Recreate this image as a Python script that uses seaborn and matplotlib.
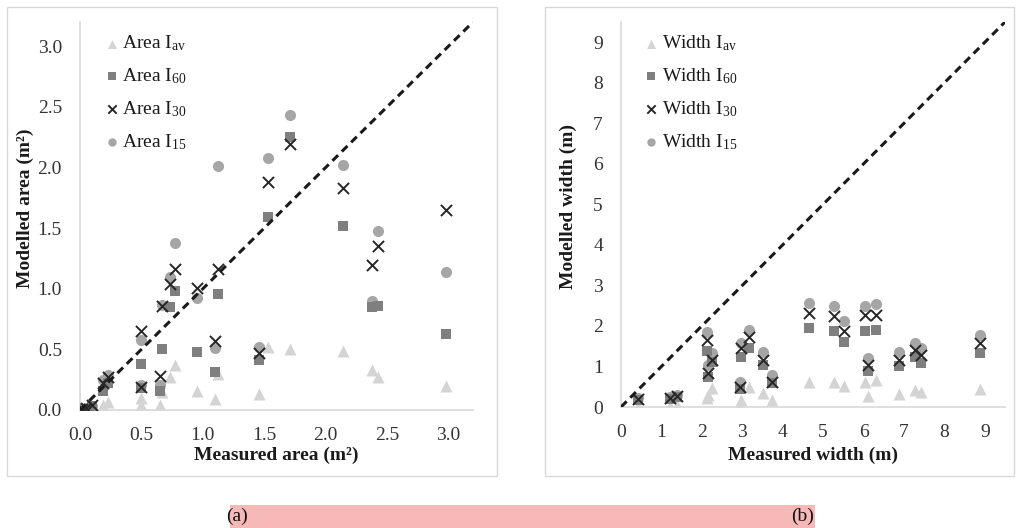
import matplotlib
matplotlib.use("Agg")
import matplotlib.pyplot as plt
from matplotlib.patches import Rectangle
import seaborn as sns
import pandas as pd

# ---- Area (m²): measured vs modelled for each rainfall intensity ----
area_measured = [0.02, 0.05, 0.10, 0.19, 0.23, 0.50, 0.50, 0.65, 0.67, 0.73, 0.77,
                 0.95, 1.10, 1.12, 1.46, 1.53, 1.71, 2.14, 2.38, 2.43, 2.98]
area_iav = [0.00, 0.00, 0.01, 0.04, 0.07, 0.10, 0.04, 0.04, 0.15, 0.27, 0.37,
            0.16, 0.09, 0.30, 0.13, 0.52, 0.50, 0.49, 0.33, 0.27, 0.20]
area_i60 = [0.01, 0.01, 0.03, 0.16, 0.22, 0.38, 0.18, 0.16, 0.50, 0.85, 0.98,
            0.48, 0.31, 0.96, 0.41, 1.59, 2.25, 1.52, 0.85, 0.86, 0.63]
area_i30 = [0.01, 0.02, 0.04, 0.22, 0.27, 0.65, 0.19, 0.28, 0.86, 1.04, 1.16,
            1.01, 0.57, 1.16, 0.47, 1.88, 2.19, 1.83, 1.20, 1.35, 1.65]
area_i15 = [0.01, 0.02, 0.03, 0.25, 0.29, 0.58, 0.21, 0.21, 0.87, 1.10, 1.38,
            0.92, 0.51, 2.01, 0.52, 2.08, 2.43, 2.02, 0.90, 1.48, 1.14]

# ---- Width (m): measured vs modelled ----
width_measured = [0.43, 1.22, 1.38, 2.12, 2.24, 2.14, 2.96, 3.16, 2.94, 3.52, 3.73,
                  4.65, 5.28, 5.52, 6.03, 6.30, 6.12, 6.87, 7.28, 7.41, 8.89]
width_iav = [0.03, 0.03, 0.04, 0.22, 0.47, 0.30, 0.17, 0.49, 0.05, 0.35, 0.17,
             0.62, 0.62, 0.52, 0.62, 0.67, 0.27, 0.32, 0.42, 0.37, 0.44]
width_i60 = [0.18, 0.20, 0.24, 1.38, 1.10, 0.74, 1.23, 1.46, 0.44, 1.04, 0.59,
             1.95, 1.88, 1.60, 1.88, 1.90, 0.89, 1.01, 1.23, 1.09, 1.33]
width_i30 = [0.20, 0.22, 0.26, 1.65, 1.16, 0.84, 1.46, 1.73, 0.50, 1.15, 0.62,
             2.32, 2.25, 1.88, 2.27, 2.27, 1.04, 1.16, 1.40, 1.28, 1.58]
width_i15 = [0.22, 0.24, 0.30, 1.85, 1.33, 1.04, 1.58, 1.90, 0.62, 1.36, 0.79,
             2.57, 2.49, 2.12, 2.49, 2.54, 1.21, 1.36, 1.58, 1.46, 1.78]

area_ticks = [0.0, 0.5, 1.0, 1.5, 2.0, 2.5, 3.0]
width_ticks = [0, 1, 2, 3, 4, 5, 6, 7, 8, 9]
subscripts = ["av", "60", "30", "15"]

sns.set_theme(style="white")
plt.rcParams["font.family"] = ["Liberation Serif", "DejaVu Serif"]
plt.rcParams["mathtext.fontset"] = "custom"
plt.rcParams["mathtext.rm"] = "Liberation Serif"
plt.rcParams["mathtext.it"] = "Liberation Serif:italic"
plt.rcParams["mathtext.bf"] = "Liberation Serif:bold"

W, H = 1019, 528
fig = plt.figure(figsize=(W / 100, H / 100), dpi=100)
fig.patch.set_facecolor("white")


def px_rect(x0, y0, x1, y1):
    return [x0 / W, 1 - y1 / H, (x1 - x0) / W, (y1 - y0) / H]


# panel frames
for x0, x1 in [(7, 497), (545, 1014)]:
    fig.patches.append(Rectangle((x0 / W, 1 - 476 / H), (x1 - x0) / W, (476 - 7) / H,
                                 transform=fig.transFigure, fill=False,
                                 edgecolor="#d9d9d9", linewidth=1.0, zorder=0))

ax1 = fig.add_axes(px_rect(80, 22, 473, 410))
ax2 = fig.add_axes(px_rect(621, 22, 1005, 407))

# series styles: (marker, colour, size, zorder)
styles = {
    "av": ("^", "#d4d4d4", 75, 2),
    "15": ("o", "#a6a6a6", 64, 3),
    "60": ("s", "#7f7f7f", 58, 4),
    "30": ("x", "#262626", 64, 5),
}


def draw_panel(ax, measured, series, name, lim, ticks, fmt, xlabel, ylabel, leg_x):
    df = pd.DataFrame({"measured": measured})
    for key, vals in series.items():
        df[key] = vals
    for key in ["av", "15", "60", "30"]:
        marker, color, size, z = styles[key]
        kw = dict(linewidth=1.4) if marker == "x" else dict(linewidth=0)
        sns.scatterplot(data=df, x="measured", y=key, ax=ax, marker=marker,
                        color=color, s=size, zorder=z,
                        label=name + r" I$_{\mathrm{" + key + "}}$", **kw)
    # 1:1 line
    ax.plot([0, 1], [0, 1], transform=ax.transAxes, color="#1a1a1a",
            linewidth=2.2, linestyle=(0, (2.6, 1.7)), zorder=6)
    ax.set_xlim(0, lim)
    ax.set_ylim(0, lim)
    ax.set_xticks(ticks)
    ax.set_yticks(ticks)
    ax.set_xticklabels([fmt.format(t) for t in ticks])
    ax.set_yticklabels([fmt.format(t) for t in ticks])
    ax.tick_params(axis="both", length=0, labelsize=14, colors="#333333")
    ax.tick_params(axis="x", pad=12)
    ax.tick_params(axis="y", pad=13)
    for s in ["top", "right"]:
        ax.spines[s].set_visible(False)
    for s in ["left", "bottom"]:
        ax.spines[s].set_color("#d9d9d9")
        ax.spines[s].set_linewidth(1.2)
    ax.set_facecolor("white")
    ax.grid(False)
    ax.set_xlabel(xlabel, fontsize=14, fontweight="bold", color="#1a1a1a", va="center")
    ax.set_ylabel(ylabel, fontsize=14, fontweight="bold", color="#1a1a1a")

    hs, ls = ax.get_legend_handles_labels()
    order = {lab: h for h, lab in zip(hs, ls)}
    labels = [name + r" I$_{\mathrm{" + k + "}}$" for k in subscripts]
    ax.legend([order[l] for l in labels], labels, loc="upper left",
              bbox_to_anchor=(leg_x, 0.995), frameon=False, fontsize=14,
              handlelength=0.8, handletextpad=0.15, labelspacing=0.68,
              borderpad=0, markerscale=0.75, labelcolor="#1a1a1a")


draw_panel(ax1, area_measured,
           {"av": area_iav, "60": area_i60, "30": area_i30, "15": area_i15},
           "Area", 3.2, area_ticks, "{:.1f}",
           "Measured area (m²)", "Modelled area (m²)", 0.036)
draw_panel(ax2, width_measured,
           {"av": width_iav, "60": width_i60, "30": width_i30, "15": width_i15},
           "Width", 9.5, width_ticks, "{:d}",
           "Measured width (m)", "Modelled width (m)", 0.033)

ax1.xaxis.set_label_coords(0.5, (410 - 455) / 388)
ax1.yaxis.set_label_coords((34 - 80) / 393, 0.52)
ax2.xaxis.set_label_coords(0.5, (407 - 455) / 385)
ax2.yaxis.set_label_coords((577 - 621) / 384, 0.52)

# caption band with panel letters
fig.patches.append(Rectangle((230 / W, 0), (815 - 230) / W, (528 - 505) / H,
                             transform=fig.transFigure, facecolor="#f7b8b8",
                             edgecolor="none", zorder=0))
fig.text(237 / W, 1 - 516 / H, "(a)", fontsize=14, ha="center", va="center", color="#111111")
fig.text(803 / W, 1 - 516 / H, "(b)", fontsize=14, ha="center", va="center", color="#111111")

fig.savefig("out.png", dpi=100, facecolor="white")
